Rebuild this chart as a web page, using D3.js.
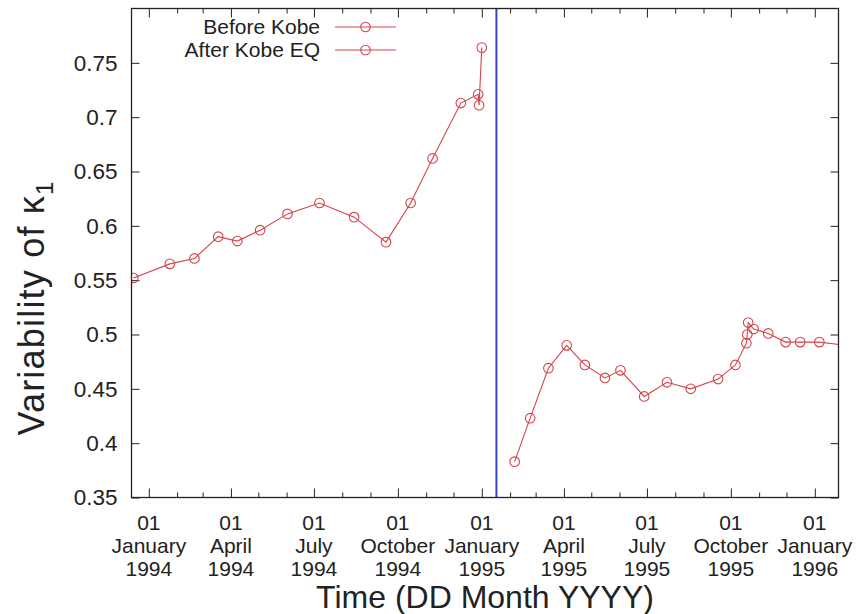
<!DOCTYPE html>
<html>
<head>
<meta charset="utf-8">
<script src="https://cdn.jsdelivr.net/npm/d3@7"></script>
<style>
  html, body { margin: 0; padding: 0; background: #fff; }
  svg { display: block; font-family: "Liberation Sans", Arial, Helvetica, sans-serif; }
</style>
</head>
<body>
<svg id="chart" width="856" height="614"></svg>
<script>
// Variability of kappa_1 before and after the Kobe earthquake (17 January 1995)
const beforeDates = [
  "1993-12-15", "1994-01-24", "1994-02-20", "1994-03-18", "1994-04-08", "1994-05-03",
  "1994-06-02", "1994-07-07", "1994-08-14", "1994-09-18", "1994-10-15", "1994-11-08",
  "1994-12-09", "1994-12-28", "1994-12-29", "1995-01-01"
];
const beforeValues = [
  0.552, 0.565, 0.570, 0.590, 0.586, 0.596,
  0.611, 0.621, 0.608, 0.585, 0.621, 0.662,
  0.713, 0.721, 0.711, 0.764
];

const afterDates = [
  "1995-02-06", "1995-02-23", "1995-03-15", "1995-04-04", "1995-04-24", "1995-05-16",
  "1995-06-02", "1995-06-28", "1995-07-23", "1995-08-18", "1995-09-17", "1995-10-06",
  "1995-10-18", "1995-10-19", "1995-10-20", "1995-10-26", "1995-11-11", "1995-11-30",
  "1995-12-16", "1996-01-06", "1996-02-05"
];
const afterValues = [
  0.383, 0.423, 0.469, 0.490, 0.472, 0.460,
  0.467, 0.443, 0.456, 0.450, 0.459, 0.472,
  0.492, 0.500, 0.511, 0.505, 0.501, 0.493,
  0.493, 0.493, 0.490
];

const seriesNames = ["Before Kobe", "After Kobe EQ"];
const quakeDate = "1995-01-17";
const xDomain = ["1993-12-13", "1996-01-27"];
const yDomain = [0.35, 0.8];
const yTickValues = [0.35, 0.4, 0.45, 0.5, 0.55, 0.6, 0.65, 0.7, 0.75];
const yTickLabels = ["0.35", "0.4", "0.45", "0.5", "0.55", "0.6", "0.65", "0.7", "0.75"];
const xMajorTickDates = [
  "1994-01-01", "1994-04-01", "1994-07-01", "1994-10-01", "1995-01-01",
  "1995-04-01", "1995-07-01", "1995-10-01", "1996-01-01"
];
const xTitle = "Time (DD Month YYYY)";

const parse = d3.timeParse("%Y-%m-%d");
const svg = d3.select("#chart");

const plot = { left: 131.5, right: 838.5, top: 8.5, bottom: 497.5 };
const lineColor = "#d5434b";
const axisColor = "#222";

const x = d3.scaleTime()
  .domain(xDomain.map(parse))
  .range([plot.left, plot.right]);
const y = d3.scaleLinear()
  .domain(yDomain)
  .range([plot.bottom, plot.top]);

svg.append("defs").append("clipPath").attr("id", "plot-clip")
  .append("rect")
  .attr("x", plot.left).attr("y", plot.top)
  .attr("width", plot.right - plot.left).attr("height", plot.bottom - plot.top);

// Y axis (left, with mirrored ticks on the right)
const yAxisLeft = d3.axisLeft(y)
  .tickValues(yTickValues)
  .tickSize(-8)
  .tickPadding(14)
  .tickFormat((d, i) => yTickLabels[i]);
const gyl = svg.append("g").attr("transform", `translate(${plot.left},0)`).call(yAxisLeft);
gyl.select(".domain").remove();
gyl.selectAll("line").attr("stroke", axisColor);
gyl.selectAll("text").attr("font-size", 22.5).attr("fill", "#222");

const yAxisRight = d3.axisRight(y).tickValues(yTickValues).tickSize(-8).tickFormat("");
const gyr = svg.append("g").attr("transform", `translate(${plot.right},0)`).call(yAxisRight);
gyr.select(".domain").remove();
gyr.selectAll("line").attr("stroke", axisColor);

// X axis: monthly minor ticks, quarterly major ticks with three-line labels
const monthTicks = d3.timeMonth.range(parse("1994-01-01"), parse("1996-01-02"));
const majorSet = new Set(xMajorTickDates);
const fmtKey = d3.timeFormat("%Y-%m-%d");

const xAxisBottom = d3.axisBottom(x)
  .tickValues(monthTicks)
  .tickSize(-5)
  .tickFormat("");
const gxb = svg.append("g").attr("transform", `translate(0,${plot.bottom})`).call(xAxisBottom);
gxb.select(".domain").remove();
gxb.selectAll(".tick line")
  .attr("stroke", axisColor)
  .attr("y2", d => majorSet.has(fmtKey(d)) ? -9 : -5);

const xAxisTop = d3.axisTop(x).tickValues(monthTicks).tickSize(-5).tickFormat("");
const gxt = svg.append("g").attr("transform", `translate(0,${plot.top})`).call(xAxisTop);
gxt.select(".domain").remove();
gxt.selectAll(".tick line")
  .attr("stroke", axisColor)
  .attr("y2", d => majorSet.has(fmtKey(d)) ? 9 : 5);

const labelRows = [d3.timeFormat("%d"), d3.timeFormat("%B"), d3.timeFormat("%Y")];
const xl = svg.append("g").attr("font-size", 21).attr("fill", "#222").attr("text-anchor", "middle");
xMajorTickDates.map(parse).forEach(d => {
  const t = xl.append("text").attr("x", x(d)).attr("y", plot.bottom + 32);
  labelRows.forEach((f, i) => {
    t.append("tspan").attr("x", x(d)).attr("dy", i === 0 ? 0 : 23).text(f(d));
  });
});

// Earthquake marker
svg.append("line")
  .attr("x1", x(parse(quakeDate))).attr("x2", x(parse(quakeDate)))
  .attr("y1", plot.top).attr("y2", plot.bottom)
  .attr("stroke", "#3347c4").attr("stroke-width", 2);

// Data series
const series = [
  beforeDates.map((d, i) => ({ date: parse(d), value: beforeValues[i] })),
  afterDates.map((d, i) => ({ date: parse(d), value: afterValues[i] }))
];
const line = d3.line().x(d => x(d.date)).y(d => y(d.value));
const dataG = svg.append("g").attr("clip-path", "url(#plot-clip)");
series.forEach(s => {
  dataG.append("path").datum(s)
    .attr("d", line)
    .attr("fill", "none").attr("stroke", lineColor).attr("stroke-width", 1.1);
  dataG.selectAll(null).data(s).enter().append("circle")
    .attr("cx", d => x(d.date)).attr("cy", d => y(d.value)).attr("r", 4.8)
    .attr("fill", "none").attr("stroke", lineColor).attr("stroke-width", 1.1);
});

// Frame
svg.append("rect")
  .attr("x", plot.left).attr("y", plot.top)
  .attr("width", plot.right - plot.left).attr("height", plot.bottom - plot.top)
  .attr("fill", "none").attr("stroke", axisColor).attr("stroke-width", 1.3);

// Legend
const legend = svg.append("g");
seriesNames.forEach((name, i) => {
  const ly = 27 + i * 23;
  legend.append("text").attr("x", 320).attr("y", ly).attr("dy", "0.35em")
    .attr("text-anchor", "end").attr("font-size", 21).attr("fill", "#222").text(name);
  legend.append("line").attr("x1", 335).attr("x2", 396).attr("y1", ly).attr("y2", ly)
    .attr("stroke", lineColor).attr("stroke-width", 1.1);
  legend.append("circle").attr("cx", 365.5).attr("cy", ly).attr("r", 4.8)
    .attr("fill", "none").attr("stroke", lineColor).attr("stroke-width", 1.1);
});

// Axis titles
svg.append("text")
  .attr("x", (plot.left + plot.right) / 2).attr("y", 608)
  .attr("text-anchor", "middle").attr("font-size", 32).attr("fill", "#222")
  .text(xTitle);

const yTitle = svg.append("text")
  .attr("transform", "translate(44,308) rotate(-90)")
  .attr("text-anchor", "middle").attr("font-size", 36).attr("letter-spacing", 1.2)
  .attr("fill", "#222");
yTitle.append("tspan").text("Variability of κ");
yTitle.append("tspan").attr("font-size", 24).attr("dy", 9).text("1");
</script>
</body>
</html>
